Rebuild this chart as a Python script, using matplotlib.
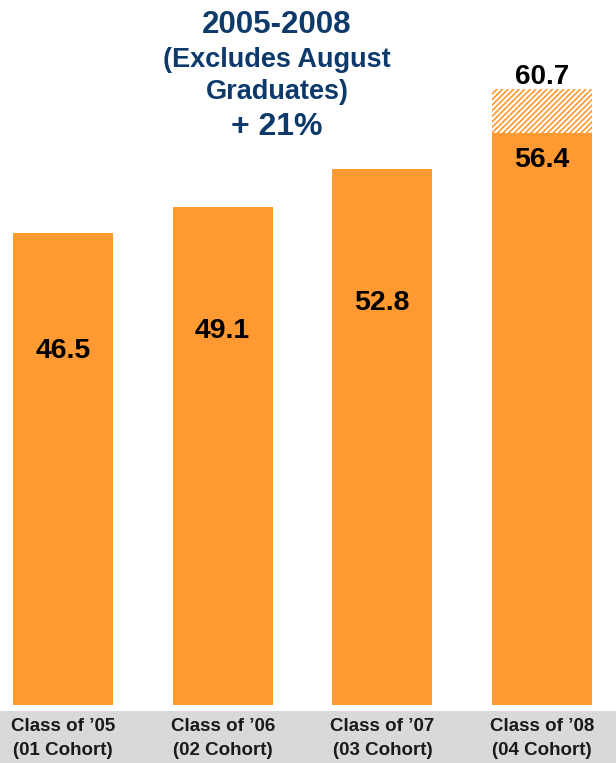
import matplotlib
matplotlib.use("Agg")
import matplotlib.pyplot as plt
from matplotlib.patches import Rectangle

categories = ["Class of \u201905\n(01 Cohort)", "Class of \u201906\n(02 Cohort)",
              "Class of \u201907\n(03 Cohort)", "Class of \u201908\n(04 Cohort)"]
values = [46.5, 49.1, 52.8, 56.4]
projected = [None, None, None, 60.7]
title_lines = ["2005-2008", "(Excludes August\nGraduates)", "+ 21%"]

plt.rcParams['font.family'] = ['Liberation Sans', 'DejaVu Sans']
ORANGE = '#FF9A33'
NAVY = '#0D3A6B'

W, H = 616, 763
fig = plt.figure(figsize=(W / 100, H / 100), dpi=100)
base = 705
ax = fig.add_axes([0, (H - base) / H, 1, base / H])
ppu = 10.15
ax.set_ylim(0, base / ppu)
step = 159.67
ax.set_xlim(-63 / step, (W - 63) / step)
ax.axis('off')

# gray label band
fig.patches.append(Rectangle((0, 0), 1, (H - 711) / H, transform=fig.transFigure,
                             facecolor='#D9D9D9', edgecolor='none', zorder=0))

x = list(range(len(values)))
width = 100 / step
ax.bar(x, values, width=width, color=ORANGE, edgecolor='none')

plt.rcParams['hatch.linewidth'] = 1.6
for i, p in enumerate(projected):
    if p is not None:
        ax.bar(i, p - values[i], bottom=values[i], width=width, color=ORANGE,
               edgecolor='white', hatch='//////', linewidth=0)
        ax.text(i, p + 1.2, f"{p:.1f}", ha='center', va='center',
                fontsize=20, fontweight='bold', color='black')

for i, v in enumerate(values):
    if projected[i] is not None:
        y = v - 2.7
    else:
        y = v * 0.75
    ax.text(i, y, f"{v:.1f}", ha='center', va='center', fontsize=20.5,
            fontweight='bold', color='black')

for i, c in enumerate(categories):
    xp = (63 + i * step) / W
    fig.text(xp, (H - 738.5) / H, c, ha='center', va='center', fontsize=13.5,
             fontweight='bold', color='#1a1a1a', linespacing=1.6)

cx = 277 / W
fig.text(cx, (H - 25) / H, title_lines[0], ha='center', va='center',
         fontsize=22.5, fontweight='bold', color=NAVY)
fig.text(cx, (H - 76) / H, title_lines[1], ha='center', va='center',
         fontsize=19.5, fontweight='bold', color=NAVY, linespacing=1.3)
fig.text(cx, (H - 127) / H, title_lines[2], ha='center', va='center',
         fontsize=23, fontweight='bold', color=NAVY)

fig.savefig("out.png", dpi=100)
